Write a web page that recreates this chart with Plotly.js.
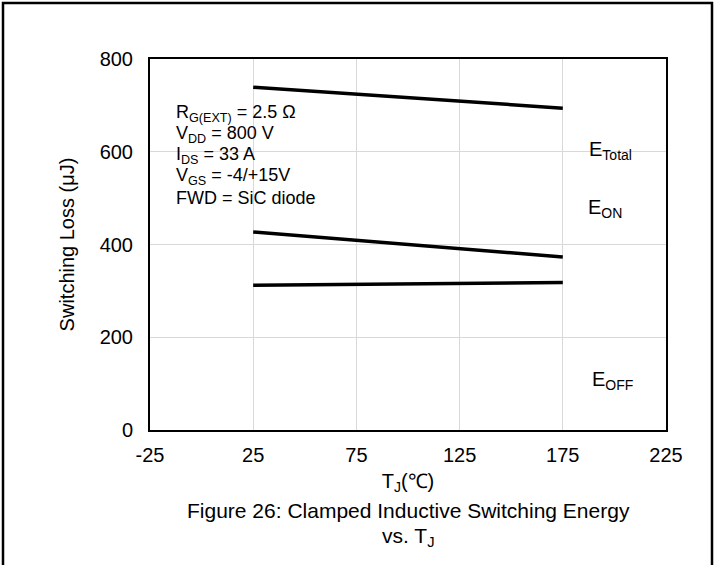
<!DOCTYPE html>
<html><head><meta charset="utf-8">
<script src="https://cdn.plot.ly/plotly-3.0.1.min.js"></script>
<style>body{margin:0;background:#fff}#c{width:720px;height:565px}</style>
</head><body><div id="c"></div>
<script>
const tempC = [25, 175];
const eTotal = [739, 694];
const eOn = [427, 373];
const eOff = [312, 318];
const xTicks = [-25, 25, 75, 125, 175, 225];
const yTicks = [0, 200, 400, 600, 800];
const seriesNames = ['E<sub>Total</sub>', 'E<sub>ON</sub>', 'E<sub>OFF</sub>'];
const conditions = ['R<sub>G(EXT)</sub> = 2.5 Ω', 'V<sub>DD</sub> = 800 V', 'I<sub>DS</sub> = 33 A', 'V<sub>GS</sub> = -4/+15V', 'FWD = SiC diode'];

const F = 'Liberation Sans, Arial, sans-serif';
const line = {color: '#000', width: 3.5};
const traces = [eTotal, eOn, eOff].map((v, i) => ({x: tempC, y: v, mode: 'lines', line: line, name: seriesNames[i], hoverinfo: 'skip'}));

const plotL = 150, plotR = 666, plotT = 59, plotB = 430;
const pw = plotR - plotL, ph = plotB - plotT;
const px = v => (v - plotL) / pw;
const py = v => (plotB - v) / ph;

const ann = [];
const condY = [113, 134, 155, 176, 198];
conditions.forEach((t, i) => ann.push({xref: 'paper', yref: 'paper', x: px(174), y: py(condY[i]), xanchor: 'left', yanchor: 'middle', text: t, showarrow: false, font: {family: F, size: 18, color: '#000'}}));
const labPos = [[587, 150], [586, 208], [590, 380]];
seriesNames.forEach((t, i) => ann.push({xref: 'paper', yref: 'paper', x: px(labPos[i][0]), y: py(labPos[i][1]), xanchor: 'left', yanchor: 'middle', text: t, showarrow: false, font: {family: F, size: 20, color: '#000'}}));
ann.push({xref: 'paper', yref: 'paper', x: 0.5, y: py(510), xanchor: 'center', yanchor: 'middle', text: 'Figure 26: Clamped Inductive Switching Energy', showarrow: false, font: {family: F, size: 21, color: '#000'}});
ann.push({xref: 'paper', yref: 'paper', x: 0.5, y: py(537), xanchor: 'center', yanchor: 'middle', text: 'vs. T<sub>J</sub>', showarrow: false, font: {family: F, size: 21, color: '#000'}});

const layout = {
  width: 720, height: 565,
  margin: {l: plotL, r: 720 - plotR, t: plotT, b: 565 - plotB},
  paper_bgcolor: '#fff', plot_bgcolor: '#fff',
  showlegend: false,
  font: {family: F, color: '#000'},
  xaxis: {range: [-25, 225], tickvals: xTicks, ticktext: xTicks.map(String), showgrid: true, gridcolor: '#d9d9d9', gridwidth: 1,
    showline: true, linecolor: '#000', linewidth: 2, mirror: true, ticks: '', zeroline: false, tickfont: {size: 20, family: F},
    ticklabelstandoff: 6,
    title: {text: 'T<sub>J</sub>(℃)', font: {size: 20, family: F}, standoff: 9}},
  yaxis: {range: [0, 800], tickvals: yTicks, ticktext: yTicks.map(String), showgrid: true, gridcolor: '#d9d9d9', gridwidth: 1,
    showline: true, linecolor: '#000', linewidth: 2, mirror: true, ticks: '', zeroline: false, tickfont: {size: 20, family: F},
    ticklabelstandoff: 11,
    title: {text: 'Switching Loss (μJ)', font: {size: 20, family: F}, standoff: 20}},
  annotations: ann,
  shapes: [{type: 'rect', xref: 'paper', yref: 'paper', x0: px(3), x1: px(712), y0: py(600), y1: py(3), line: {color: '#000', width: 2.5}, fillcolor: 'rgba(0,0,0,0)'}]
};
Plotly.newPlot('c', traces, layout, {displayModeBar: false, staticPlot: true});
</script></body></html>
